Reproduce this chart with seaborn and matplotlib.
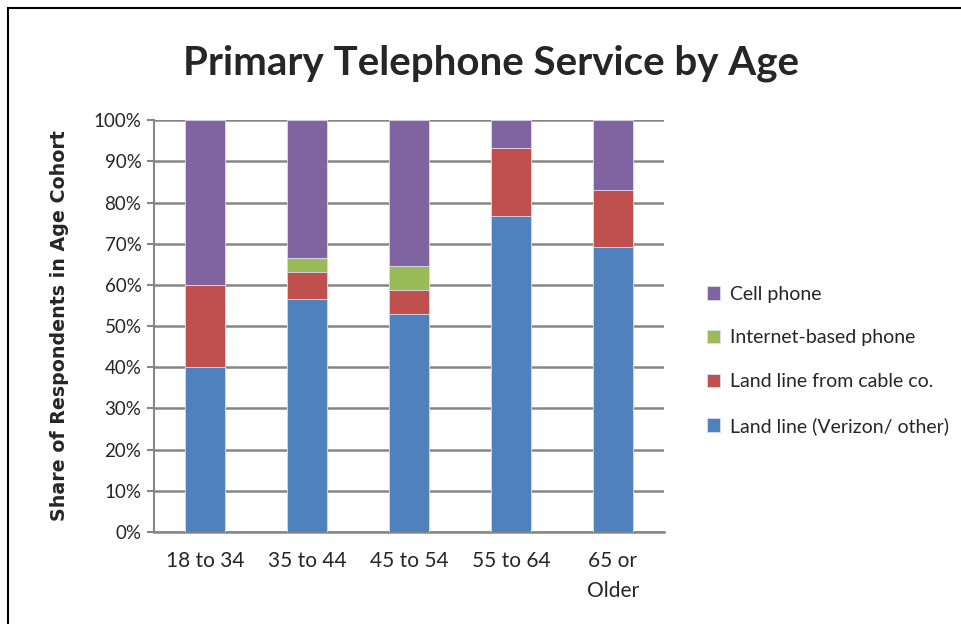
import matplotlib
matplotlib.use("Agg")
import matplotlib.pyplot as plt
import matplotlib.patches as mpatches
from matplotlib.ticker import FixedLocator, PercentFormatter
import seaborn as sns
import numpy as np

ages = ["18 to 34", "35 to 44", "45 to 54", "55 to 64", "65 or\nOlder"]
land_line = [40.0, 56.5, 52.9, 76.7, 69.2]
cable_line = [20.0, 6.7, 5.8, 16.6, 13.9]
internet_phone = [0.0, 3.3, 5.9, 0.0, 0.0]
cell_phone = [40.0, 33.5, 35.4, 6.7, 16.9]

series = [
    ("Land line (Verizon/ other)", land_line, "#4F81BD"),
    ("Land line from cable co.", cable_line, "#C0504D"),
    ("Internet-based phone", internet_phone, "#9BBB59"),
    ("Cell phone", cell_phone, "#8064A2"),
]

sns.set_style("white")
plt.rcParams["font.family"] = ["Lato", "DejaVu Sans"]

fig = plt.figure(figsize=(9.62, 6.24), dpi=100)
ax = fig.add_axes([0.160, 0.1474, 0.530, 0.660])

# cumulative stacking: draw the tallest total first, then overdraw
totals = np.cumsum([s[1] for s in series], axis=0)
for i in range(len(series) - 1, -1, -1):
    name, vals, col = series[i]
    sns.barplot(x=ages, y=totals[i], color=col, saturation=1, width=0.39, ax=ax,
                label=name, edgecolor="#dcdcf0", linewidth=0.6, zorder=3)

ax.set_ylim(0, 100)
ax.set_xlim(-0.5, 4.5)
ax.yaxis.set_major_locator(FixedLocator(np.arange(0, 101, 10)))
ax.yaxis.set_major_formatter(PercentFormatter(decimals=0))
ax.grid(axis="y", color="#868686", linewidth=1.8, zorder=0)
ax.set_axisbelow(True)
for s in ["top", "right"]:
    ax.spines[s].set_visible(False)
ax.spines["left"].set_color("#868686")
ax.spines["left"].set_linewidth(1.5)
ax.spines["bottom"].set_color("#868686")
ax.spines["bottom"].set_linewidth(1.8)

ax.xaxis.set_minor_locator(FixedLocator(np.arange(-0.5, 5, 1)))
ax.tick_params(axis="x", which="major", length=0, labelsize=15, pad=14)
ax.tick_params(axis="x", which="minor", length=7, width=1.5, color="#868686", direction="out")
ax.tick_params(axis="y", length=5, width=1.5, color="#868686", direction="out",
               labelsize=13.5, pad=4, left=True)
for t in ax.get_xticklabels():
    t.set_linespacing(1.6)
ax.set_xlabel("")
ax.set_ylabel("Share of Respondents in Age Cohort", fontsize=13.7, fontweight="bold",
              family=["DejaVu Sans"], labelpad=18)

fig.suptitle("Primary Telephone Service by Age", x=0.51, y=0.928, fontsize=29,
             fontweight="bold")

handles, labels = ax.get_legend_handles_labels()
ax.legend(handles, labels, loc="center left", bbox_to_anchor=(1.05, 0.417), frameon=False,
          fontsize=14, handlelength=0.7, handleheight=0.7, handletextpad=0.5,
          labelspacing=1.38)

fig.patches.append(mpatches.Rectangle((8 / 962, -0.05), 1.1, 1.05 - 8 / 624,
                                      transform=fig.transFigure, fill=False,
                                      edgecolor="black", linewidth=1.5))

fig.savefig("out.png", dpi=100)
